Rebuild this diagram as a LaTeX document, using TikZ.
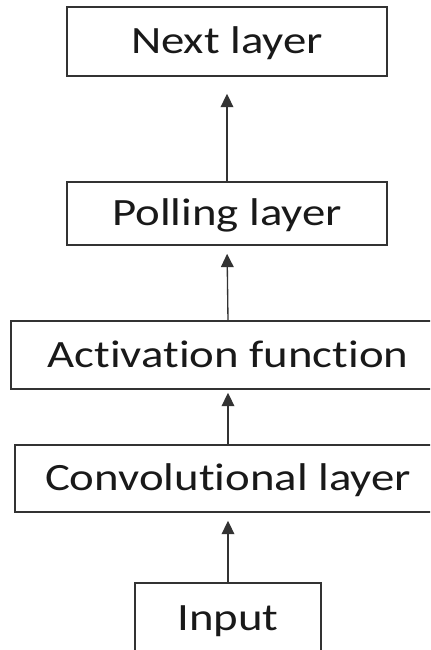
\documentclass[tikz,border=0pt]{standalone}
\usepackage{fontspec}
\setmainfont{Carlito}[FakeStretch = 1.21, Ligatures = NoCommon]
\usetikzlibrary{arrows.meta}

\definecolor{linegray}{HTML}{333333}

\tikzset{
  layerbox/.style = {draw = linegray, line width = 1.2pt, rectangle,
    font = \fontsize{29}{34}\selectfont, text = black!90,
    text height = 18.7pt, text depth = 0pt},
  uparrow/.style = {draw = linegray, line width = 1pt,
    -{Triangle[length = 10pt, width = 9.5pt]}}
}

\begin{document}
\begin{tikzpicture}[x = 0.75pt, y = -0.75pt]

    \path[use as bounding box] (0, 0) rectangle (430, 650);
    \clip (0, 0) rectangle (430, 650);

    \node[layerbox, minimum width = 240pt, minimum height = 51.75pt] (next) at (227, 41.5) {Next layer};
    \node[layerbox, minimum width = 240pt, minimum height = 47.25pt] (poll) at (227, 213.5) {Polling layer};
    \node[layerbox, minimum width = 325.5pt, minimum height = 51pt] (act) at (228, 355) {Activation function};
    \node[layerbox, minimum width = 319.5pt, minimum height = 50.25pt] (conv) at (228, 478.5) {Convolutional layer};
    \node[layerbox, minimum width = 139.5pt, minimum height = 52.5pt] (inp) at (228, 618) {Input};

    \draw[uparrow, shorten > = 12.75pt] (poll) -- (next);
    \draw[uparrow, shorten > = 6pt] (act.north) -- (poll.south);
    \draw[uparrow, shorten > = 2.25pt] (conv.north) -- (act.south);
    \draw[uparrow, shorten > = 6pt] (inp.north) -- (conv.south);

  \end{tikzpicture}
\end{document}
